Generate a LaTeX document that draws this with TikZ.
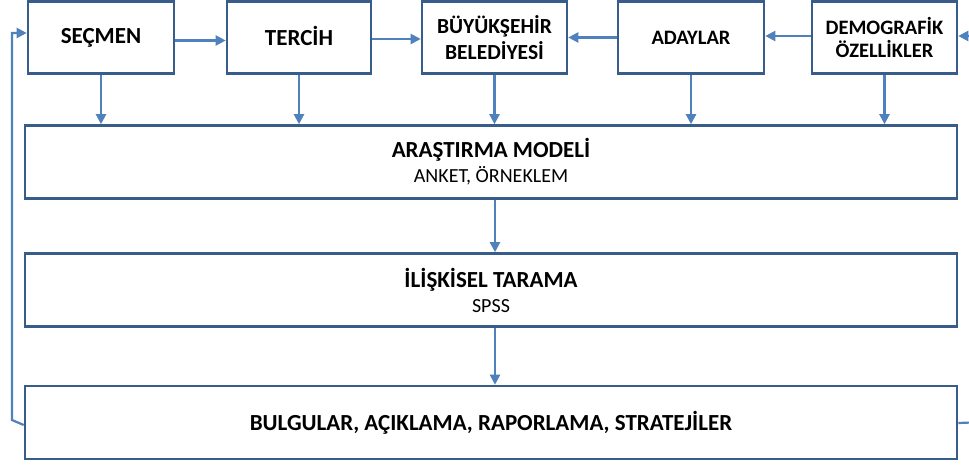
\documentclass[tikz,border=0pt]{standalone}
\usepackage{fontspec}
\setmainfont{Carlito}
\usetikzlibrary{arrows.meta,calc}
\definecolor{boxblue}{HTML}{385D8A}
\definecolor{arrowblue}{HTML}{4F81BD}
\begin{document}
\begin{tikzpicture}[x=1pt,y=-1pt,
  box/.style={draw=boxblue,line width=2.6pt,fill=white,inner sep=0pt,align=center,
    font=\fontsize{23}{28}\selectfont\bfseries},
  topbox/.style={box,minimum height=72pt},
  widebox/.style={box,minimum width=932pt,minimum height=73pt},
  tip/.style={-{Triangle[length=10pt,width=10pt]}},
  conn/.style={draw=arrowblue,line width=2.2pt,tip},
  feed/.style={draw=arrowblue,line width=2.2pt}]
\useasboundingbox (0,0) rectangle (969,465);
\clip (0,0) rectangle (969,465);
\fill[white] (0,0) rectangle (969,465);
% top row
\node[topbox,minimum width=146pt,text height=16pt] (secmen) at (101,37.5) {SEÇMEN};
\node[topbox,minimum width=144pt,text height=16pt] (tercih) at (299,37.5) {TERCİH};
\node[topbox,minimum width=145pt,font=\fontsize{21.5}{26}\selectfont\bfseries] (buyuk) at (494.5,37.5) {BÜYÜKŞEHİR\\BELEDİYESİ};
\node[topbox,minimum width=146pt,font=\fontsize{20.5}{25}\selectfont\bfseries] (adaylar) at (691,37.5) {ADAYLAR};
\node[topbox,minimum width=145pt,font=\fontsize{20.5}{23.5}\selectfont\bfseries] (demo) at (884.5,37.5) {DEMOGRAFİK\\ÖZELLİKLER};
% wide boxes
\node[widebox] (model) at (491,162) {ARAŞTIRMA MODELİ\\[-3pt]{\fontsize{20}{24}\selectfont\mdseries ANKET, ÖRNEKLEM}};
\node[widebox] (tarama) at (491,290) {İLİŞKİSEL TARAMA\\[-3pt]{\fontsize{20}{24}\selectfont\mdseries SPSS}};
\node[widebox] (bulgu) at (491,422.5) {BULGULAR, AÇIKLAMA, RAPORLAMA, STRATEJİLER};
% horizontal arrows
\draw[conn] ([yshift=-3pt]secmen.east) -- ([yshift=-3pt]tercih.west);
\draw[conn] ([yshift=-1.5pt]tercih.east) -- ([yshift=-1.5pt]buyuk.west);
\draw[conn] (adaylar.west) -- (buyuk.east);
\draw[conn] ([yshift=1.5pt]demo.west) -- ([yshift=1.5pt]adaylar.east);
% down arrows
\draw[conn] (secmen.south) -- (secmen.south |- model.north);
\draw[conn] (tercih.south) -- (tercih.south |- model.north);
\draw[conn] (buyuk.south) -- (buyuk.south |- model.north);
\draw[conn] (adaylar.south) -- (adaylar.south |- model.north);
\draw[conn] (demo.south) -- (demo.south |- model.north);
\draw[conn] ([xshift=4pt]model.south) -- ([xshift=4pt]tarama.north);
\draw[conn] ([xshift=4pt]tarama.south) -- ([xshift=4pt]bulgu.north);
% feedback loops
\coordinate (lcorner) at (12,420);
\draw[feed,tip] ([yshift=-2.5pt]bulgu.west) -- (lcorner) |- ([yshift=4.5pt]secmen.west);
\coordinate (rcorner) at (985,422);
\draw[feed,tip] ([yshift=-0.5pt]bulgu.east) -- (rcorner) |- ([yshift=1.5pt]demo.east);
\end{tikzpicture}
\end{document}
